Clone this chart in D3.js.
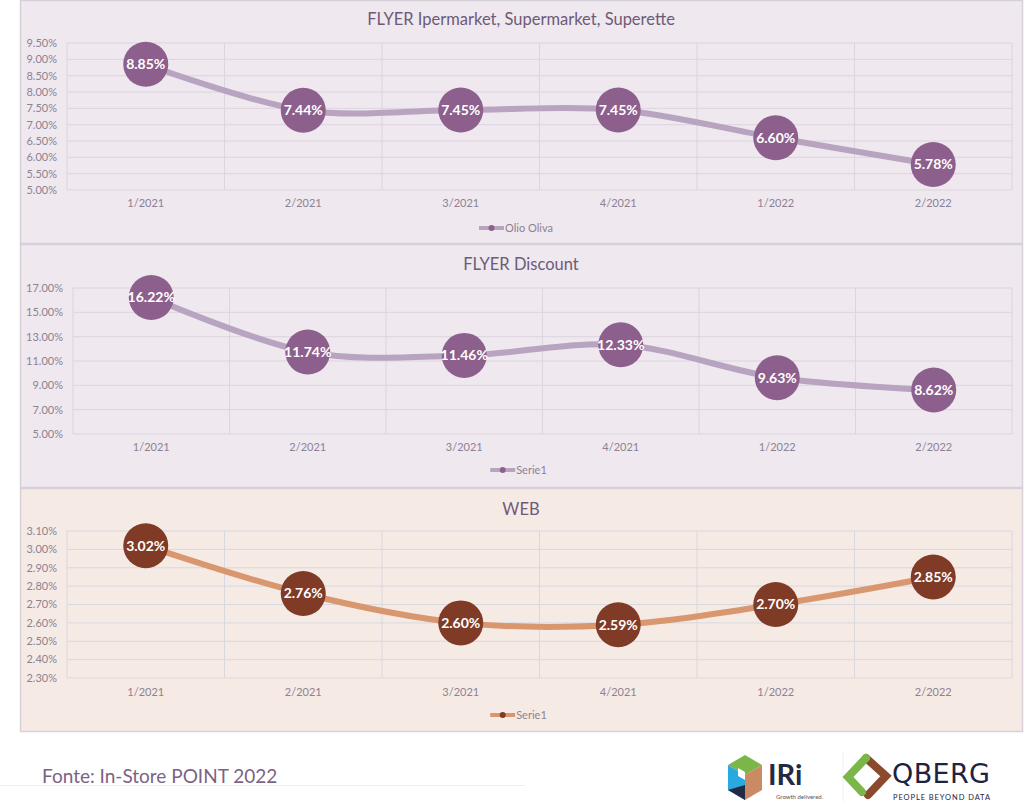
<!DOCTYPE html>
<html><head><meta charset="utf-8">
<script src="https://cdn.jsdelivr.net/npm/d3@7"></script>
<style>
html,body{margin:0;padding:0;background:#fff;}
svg{display:block;font-family:Lato,"Open Sans",sans-serif;}
</style></head>
<body>
<svg id="c" width="1024" height="805"></svg>
<script>
const categories = ["1/2021","2/2021","3/2021","4/2021","1/2022","2/2022"];
const flyerIperValues = [8.85, 7.44, 7.45, 7.45, 6.60, 5.78];
const flyerDiscountValues = [16.22, 11.74, 11.46, 12.33, 9.63, 8.62];
const webValues = [3.02, 2.76, 2.60, 2.59, 2.70, 2.85];
const flyerIperTicks = [5.0,5.5,6.0,6.5,7.0,7.5,8.0,8.5,9.0,9.5];
const flyerDiscountTicks = [5,7,9,11,13,15,17];
const webTicks = [2.3,2.4,2.5,2.6,2.7,2.8,2.9,3.0,3.1];
const titles = ["FLYER Ipermarket, Supermarket, Superette","FLYER Discount","WEB"];
const legendNames = ["Olio Oliva","Serie1","Serie1"];
const footerText = "Fonte: In-Store POINT 2022";

const svg = d3.select("#c");

const panels = [
  {values:flyerIperValues, ticks:flyerIperTicks, title:titles[0], legend:legendNames[0],
   box:[20,0,1022,243], plot:[67,43,1012,190], titleY:19, xlabY:203, legY:228, tickX:57,
   bg:"#efe8ef", grid:"#dcd4de", line:"#b8a3c0", dot:"#8d5f8d"},
  {values:flyerDiscountValues, ticks:flyerDiscountTicks, title:titles[1], legend:legendNames[1],
   box:[20,244,1022,487], plot:[73,288,1012,434], titleY:264, xlabY:447, legY:470, tickX:63,
   bg:"#efe8ef", grid:"#dcd4de", line:"#b8a3c0", dot:"#8d5f8d"},
  {values:webValues, ticks:webTicks, title:titles[2], legend:legendNames[2],
   box:[20,488,1022,731], plot:[67,531,1012,678], titleY:509, xlabY:692, legY:715, tickX:57,
   bg:"#f6eae5", grid:"#d8d8df", line:"#d9976f", dot:"#7f3b26"}
];

panels.forEach(p => {
  const g = svg.append("g");
  const [bx0,by0,bx1,by1] = p.box;
  g.append("rect").attr("x",bx0+0.5).attr("y",by0+0.5).attr("width",bx1-bx0).attr("height",by1-by0)
    .attr("fill",p.bg).attr("stroke","#d6d0d8").attr("stroke-width",1.5);
  const [px0,py0,px1,py1] = p.plot;
  const x = d3.scaleBand().domain(categories).range([px0,px1]);
  const y = d3.scaleLinear().domain([p.ticks[0], p.ticks[p.ticks.length-1]]).range([py1,py0]);
  g.selectAll(".hg").data(p.ticks).join("line")
    .attr("x1",px0).attr("x2",px1).attr("y1",d=>y(d)).attr("y2",d=>y(d))
    .attr("stroke",p.grid).attr("stroke-width",1);
  const bounds = categories.map(c=>x(c)).concat([px1]);
  g.selectAll(".vg").data(bounds).join("line")
    .attr("x1",d=>d).attr("x2",d=>d).attr("y1",py0).attr("y2",py1)
    .attr("stroke",p.grid).attr("stroke-width",1);
  const fmt = v => v.toFixed(2)+"%";
  g.selectAll(".yl").data(p.ticks).join("text")
    .attr("x",p.tickX).attr("y",d=>y(d)).attr("dy","0.35em").attr("text-anchor","end")
    .attr("font-size",11).attr("fill","#8c8292").text(fmt);
  g.selectAll(".xl").data(categories).join("text")
    .attr("x",d=>x(d)+x.bandwidth()/2).attr("y",p.xlabY).attr("dy","0.35em").attr("text-anchor","middle")
    .attr("font-size",11).attr("fill","#8c8292").text(d=>d);
  g.append("text").attr("x",(bx0+bx1)/2).attr("y",p.titleY).attr("dy","0.35em").attr("text-anchor","middle")
    .attr("font-size",16.5).attr("fill","#6d5b78").text(p.title);
  const pts = p.values.map((v,i)=>[x(categories[i])+x.bandwidth()/2, y(v)]);
  const lineGen = d3.line().curve(d3.curveCardinal.tension(0));
  g.append("path").attr("d",lineGen(pts)).attr("fill","none")
    .attr("stroke",p.line).attr("stroke-width",6).attr("stroke-linecap","round");
  g.selectAll(".pt").data(pts).join("circle")
    .attr("cx",d=>d[0]).attr("cy",d=>d[1]).attr("r",22.5).attr("fill",p.dot);
  g.selectAll(".lb").data(p.values).join("text")
    .attr("x",(d,i)=>pts[i][0]).attr("y",(d,i)=>pts[i][1]).attr("dy","0.35em").attr("text-anchor","middle")
    .attr("font-size",14).attr("font-weight","bold").attr("fill","#ffffff").text(fmt);
  const lg = g.append("g");
  const cx = (bx0+bx1)/2;
  const tw = p.legend.length*5.6;
  const lx = cx - (28+tw)/2;
  lg.append("line").attr("x1",lx).attr("x2",lx+25).attr("y1",p.legY).attr("y2",p.legY)
    .attr("stroke",p.line).attr("stroke-width",4);
  lg.append("circle").attr("cx",lx+12.5).attr("cy",p.legY).attr("r",3).attr("fill",p.dot);
  lg.append("text").attr("x",lx+26).attr("y",p.legY).attr("dy","0.35em")
    .attr("font-size",11).attr("fill","#8c8292").text(p.legend);
});

// footer
svg.append("text").attr("x",42).attr("y",783).attr("font-size",19).attr("fill","#7b6384").text(footerText);
svg.append("line").attr("x1",0).attr("x2",525).attr("y1",785.5).attr("y2",785.5).attr("stroke","#efeff2").attr("stroke-width",1);

// IRi logo (simplified)
const iri = svg.append("g");
iri.append("polygon").attr("points","745,755 762,765 745,775 728,765").attr("fill","#7ab648");
iri.append("polygon").attr("points","728,765 745,775 745,800 728,790").attr("fill","#29a9e0");
iri.append("polygon").attr("points","745,775 762,765 762,790 745,800").attr("fill","#c98a64");
iri.append("polygon").attr("points","728,790 745,800 745,785").attr("fill","#232a43");
iri.append("polygon").attr("points","738,768 745,772 745,780 738,776").attr("fill","#ffffff");
iri.append("text").attr("x",768).attr("y",785).attr("font-size",29).attr("font-weight","bold").attr("fill","#232a43").text("IRi");
iri.append("text").attr("x",776).attr("y",799).attr("font-size",6).attr("fill","#555").text("Growth delivered.");
svg.append("line").attr("x1",843).attr("x2",843).attr("y1",752).attr("y2",802).attr("stroke","#f2f2f2");

// QBERG logo (simplified)
const qb = svg.append("g");
qb.append("path").attr("d","M866,758 L886,776 L868,795").attr("fill","none").attr("stroke","#8b4a2b").attr("stroke-width",8).attr("stroke-linecap","round");
qb.append("path").attr("d","M866,758 L848,777 L862,792").attr("fill","none").attr("stroke","#7ab648").attr("stroke-width",8).attr("stroke-linecap","round");
qb.append("text").attr("x",892).attr("y",783).attr("font-size",27).attr("fill","#1e2340").attr("font-family","'DejaVu Sans', sans-serif").attr("textLength",98).text("QBERG");
qb.append("text").attr("x",893).attr("y",800).attr("font-size",7.5).attr("fill","#1e2340").attr("textLength",97).text("PEOPLE BEYOND DATA");
</script>
</body></html>
